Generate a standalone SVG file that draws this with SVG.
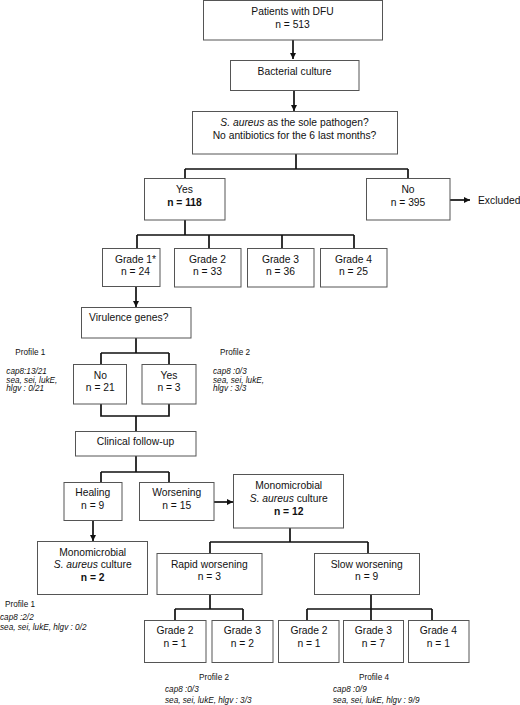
<svg xmlns="http://www.w3.org/2000/svg" width="520" height="705" viewBox="0 0 520 705">
<defs>
<marker id="ah" markerUnits="userSpaceOnUse" markerWidth="8" markerHeight="8" refX="6" refY="3" orient="auto">
<path d="M0,0 L6,3 L0,6 Z" fill="#111"/>
</marker>
<style>
rect{fill:#fff;stroke:#555;stroke-width:1}
text{font-family:"Liberation Sans",Arial,sans-serif;font-size:10.3px;fill:#111;text-anchor:middle}
.b{font-weight:bold}
.i{font-style:italic}
.s{font-size:8.2px;text-anchor:start}
.c path{fill:none;stroke:#111;stroke-width:1.7}
</style>
</defs>
<rect x="0" y="0" width="520" height="705" style="fill:#fff;stroke:none"/>
<g class="c" id="connectors">
<path d="M293,40 V59" marker-end="url(#ah)"/>
<path d="M294,90 V111" marker-end="url(#ah)"/>
<path d="M296,154 V169 M185,169 H408 M185,169 V178 M408,169 V178"/>
<path d="M450,200 H470" marker-end="url(#ah)"/>
<path d="M185,220 V235 M137,235 H354 M137,235 V248 M209,235 V248 M282,235 V248 M354,235 V248"/>
<path d="M136,286 V307" marker-end="url(#ah)"/>
<path d="M136,338 V353 M101,353 H169 M101,353 V364 M169,353 V364"/>
<path d="M101,404 V416 H169 V404 M136,416 V431"/>
<path d="M136,456 V472 M101,472 H169 M101,472 V482 M169,472 V482"/>
<path d="M214,502 H233" marker-end="url(#ah)"/>
<path d="M93,520 V541" marker-end="url(#ah)"/>
<path d="M290,528 V542 M210,542 H368 M210,542 V553 M368,542 V553"/>
<path d="M210,594 V609 M175,609 H243 M175,609 V620 M243,609 V620"/>
<path d="M371,594 V620 M307,609 H432 M307,609 V620 M432,609 V620"/>
</g>
<g id="patients"><rect x="203.5" y="0.5" width="179" height="39.5"/><text x="292.5" y="14.7">Patients with DFU</text><text x="292.5" y="27.7">n = 513</text></g>
<g id="culture"><rect x="230.5" y="60.5" width="128.5" height="30"/><text x="294.5" y="74.7">Bacterial culture</text></g>
<g id="question"><rect x="192.5" y="111.5" width="205" height="42.5"/><text x="294.5" y="126"><tspan class="i">S. aureus</tspan> as the sole pathogen?</text><text x="294.5" y="138.7">No antibiotics for the 6 last months?</text></g>
<g id="yes"><rect x="144.5" y="178.5" width="80.5" height="41.5"/><text x="184.5" y="192.7">Yes</text><text x="184.5" y="205.7" class="b">n = 118</text></g>
<g id="no"><rect x="366.5" y="178.5" width="83.5" height="41.5"/><text x="408" y="192.7">No</text><text x="408" y="205.7">n = 395</text></g>
<g id="excluded"><text x="478" y="204" style="text-anchor:start">Excluded</text></g>
<g id="grade1"><rect x="102.5" y="248.5" width="57.5" height="38"/><text x="135.5" y="262.7">Grade 1*</text><text x="135.5" y="275.4">n = 24</text></g>
<g id="grade2"><rect x="174.5" y="248.5" width="66.5" height="38.5"/><text x="207.5" y="262.7">Grade 2</text><text x="207.5" y="275.4">n = 33</text></g>
<g id="grade3"><rect x="247.5" y="248.5" width="66.5" height="38.5"/><text x="280.5" y="262.7">Grade 3</text><text x="280.5" y="275.4">n = 36</text></g>
<g id="grade4"><rect x="320.5" y="248.5" width="66.5" height="38.5"/><text x="353.5" y="262.7">Grade 4</text><text x="353.5" y="275.4">n = 25</text></g>
<g id="virulence"><rect x="81.5" y="307.5" width="109.5" height="30.5"/><text x="89" y="321.4" style="text-anchor:start">Virulence genes?</text></g>
<g id="vno"><rect x="73.5" y="364.5" width="53" height="39.5"/><text x="100.3" y="378.7">No</text><text x="100.3" y="391">n = 21</text></g>
<g id="vyes"><rect x="142" y="364.5" width="54" height="39.5"/><text x="169" y="378.7">Yes</text><text x="169" y="391">n = 3</text></g>
<g id="profile1a"><text class="s" x="15.3" y="354.5">Profile 1</text><text class="s i" x="6.3" y="373.5">cap8:13/21</text><text class="s i" x="6.3" y="382.5">sea, sei, lukE,</text><text class="s i" x="6.3" y="391.2">hlgv : 0/21</text></g>
<g id="profile2a"><text class="s" x="220" y="354.5">Profile 2</text><text class="s i" x="213" y="373.5">cap8 :0/3</text><text class="s i" x="213" y="382.5">sea, sei, lukE,</text><text class="s i" x="213" y="391.2">hlgv : 3/3</text></g>
<g id="followup"><rect x="75.5" y="431.5" width="120.5" height="24.5"/><text x="135.5" y="445.4">Clinical follow-up</text></g>
<g id="healing"><rect x="64" y="482.5" width="58" height="38"/><text x="92.7" y="496.4">Healing</text><text x="92.7" y="508.7">n = 9</text></g>
<g id="worsening"><rect x="139.5" y="482.5" width="74.5" height="38"/><text x="176.7" y="496.4">Worsening</text><text x="176.7" y="508.7">n = 15</text></g>
<g id="mono12"><rect x="233.5" y="474.5" width="110" height="53.5"/><text x="288.7" y="488.7">Monomicrobial</text><text x="288.7" y="501.7"><tspan class="i">S. aureus</tspan> culture</text><text x="288.7" y="514.5" class="b">n = 12</text></g>
<g id="mono2"><rect x="37.5" y="541.5" width="110" height="53"/><text x="92.7" y="555.7">Monomicrobial</text><text x="92.7" y="568"><tspan class="i">S. aureus</tspan> culture</text><text x="92.7" y="580.7" class="b">n = 2</text></g>
<g id="rapid"><rect x="157" y="553.5" width="105" height="41"/><text x="209.3" y="567.7">Rapid worsening</text><text x="209.3" y="580.4">n = 3</text></g>
<g id="slow"><rect x="314.5" y="553.5" width="105" height="41"/><text x="366.7" y="567.7">Slow worsening</text><text x="366.7" y="580.4">n = 9</text></g>
<g id="rg2"><rect x="144.5" y="620.5" width="61.5" height="42"/><text x="175" y="634.4">Grade 2</text><text x="175" y="647">n = 1</text></g>
<g id="rg3"><rect x="212" y="620.5" width="61" height="42"/><text x="242.3" y="634.4">Grade 3</text><text x="242.3" y="647">n = 2</text></g>
<g id="sg2"><rect x="278.5" y="620.5" width="60.5" height="42"/><text x="309" y="634.4">Grade 2</text><text x="309" y="647">n = 1</text></g>
<g id="sg3"><rect x="343.5" y="620.5" width="60" height="42"/><text x="373.3" y="634.4">Grade 3</text><text x="373.3" y="647">n = 7</text></g>
<g id="sg4"><rect x="408.5" y="620.5" width="60.5" height="42"/><text x="438.3" y="634.4">Grade 4</text><text x="438.3" y="647">n = 1</text></g>
<g id="profile1b"><text class="s" x="5" y="607">Profile 1</text><text class="s i" x="0" y="620">cap8 :2/2</text><text class="s i" x="0" y="630">sea, sei, lukE, hlgv : 0/2</text></g>
<g id="profile2b"><text class="s" x="199" y="680">Profile 2</text><text class="s i" x="165" y="692">cap8 :0/3</text><text class="s i" x="165" y="702.5">sea, sei, lukE, hlgv : 3/3</text></g>
<g id="profile4"><text class="s" x="359" y="680">Profile 4</text><text class="s i" x="333" y="692">cap8 :0/9</text><text class="s i" x="333" y="702.5">sea, sei, lukE, hlgv : 9/9</text></g>
</svg>
